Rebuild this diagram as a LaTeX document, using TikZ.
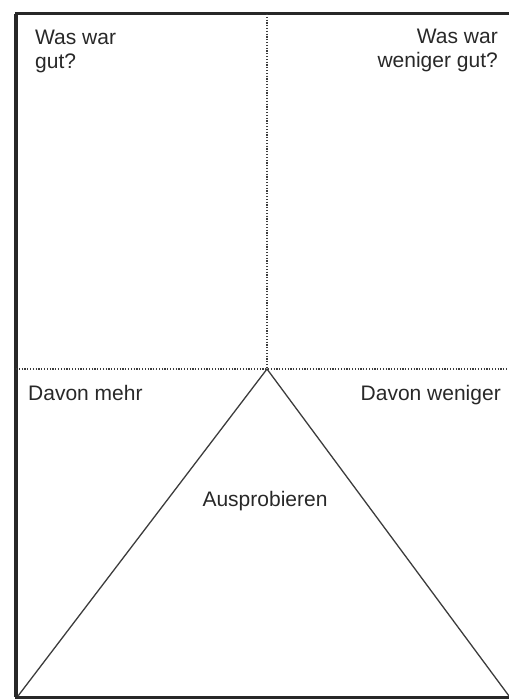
\documentclass[tikz,border=0pt]{standalone}
\usepackage{fontspec}
\setmainfont{Liberation Sans}
\usetikzlibrary{positioning}
\definecolor{RetroInk}{RGB}{40,40,40}
\definecolor{RetroLine}{RGB}{60,60,60}

\tikzset{
	frame/.style={draw=RetroInk, line width=3pt},
	divider/.style={draw=RetroLine, line width=1.4pt, dash pattern=on 1.2pt off 1.6pt},
	wedge/.style={draw=RetroLine, line width=1.3pt},
	label/.style={inner sep=0pt, text=RetroInk, font=\fontsize{21}{24}\selectfont}
}

\begin{document}
\begin{tikzpicture}[x=1pt, y=-1pt]
				
				\useasboundingbox (0,0) rectangle (508,700);
				
				% corners and centre of the sheet
				\coordinate (TL) at (16,14);
				\coordinate (BR) at (511,697);
				\coordinate (TopMid) at (267,14);
				\coordinate (Mid) at (267,369);
				\coordinate (MidL) at (16,369);
				\coordinate (MidR) at (508,369);
				\coordinate (BaseL) at (18,696);
				\coordinate (BaseR) at (509,696);
				
				\draw[frame] (TL) rectangle (BR);
				\draw[frame, line width=1.5pt] ([xshift=-1.5pt]TL) -- ([xshift=-1.5pt]TL |- BR);
				
				\draw[divider] (TopMid) -- (Mid);
				\draw[divider] (MidL) -- (MidR);
				
				\draw[wedge] (BaseL) -- (Mid) -- (BaseR);
				
				\node[
				label,
				anchor=north west,
				align=left
				]
				(Gut)
				at (35,30)
				{Was war\\gut?};
				
				\node[
				label,
				anchor=north east,
				align=right
				]
				(Weniger)
				at (498,29)
				{Was war\\weniger gut?};
				
				\node[
				label,
				anchor=base west
				]
				(Mehr)
				at (28,400)
				{Davon mehr};
				
				\node[
				label,
				anchor=base east
				]
				(DavonWeniger)
				at (501,400)
				{Davon weniger};
				
				\node[
				label,
				anchor=base
				]
				(Probe)
				at (265,506)
				{Ausprobieren};
				
			\end{tikzpicture}
\end{document}
